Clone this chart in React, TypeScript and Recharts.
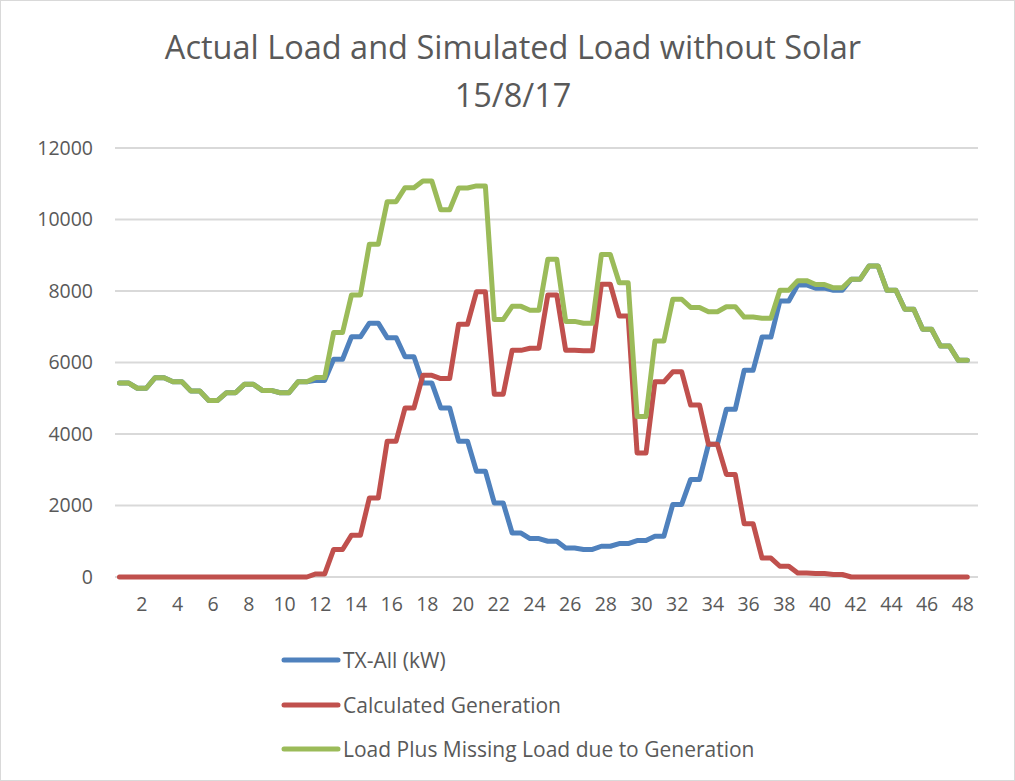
import React from 'react';
import { LineChart, Line, XAxis, YAxis, CartesianGrid, Legend } from 'recharts';

// half-hour slots of the day (1..48)
const halfHours = Array.from({ length: 48 }, (_, i) => i + 1);

// TX-All (kW)
const txAll = [
  5430, 5280, 5575, 5460, 5200, 4940, 5155, 5390, 5220, 5155, 5460, 5500,
  6090, 6720, 7100, 6695, 6160, 5430, 4730, 3800, 2960, 2070, 1230, 1075,
  1000, 810, 770, 860, 935, 1020, 1140, 2030, 2730, 3710, 4690, 5780,
  6710, 7720, 8170, 8080, 8020, 8330, 8700, 8020, 7490, 6930, 6460, 6060,
];

// Calculated Generation
const calculatedGeneration = [
  0, 0, 0, 0, 0, 0, 0, 0, 0, 0, 0, 85,
  770, 1170, 2210, 3800, 4730, 5640, 5550, 7070, 7980, 5110, 6340, 6400,
  7890, 6340, 6330, 8190, 7300, 3470, 5460, 5740, 4810, 3710, 2870, 1490,
  530, 300, 110, 95, 70, 0, 0, 0, 0, 0, 0, 0,
];

// Load Plus Missing Load due to Generation
const loadPlusMissing = [
  5430, 5280, 5575, 5460, 5200, 4940, 5155, 5390, 5220, 5155, 5460, 5580,
  6840, 7890, 9310, 10500, 10890, 11080, 10270, 10880, 10940, 7200, 7570, 7460,
  8890, 7150, 7100, 9020, 8230, 4490, 6600, 7770, 7540, 7420, 7560, 7270,
  7240, 8020, 8290, 8180, 8090, 8330, 8700, 8020, 7490, 6930, 6460, 6060,
];

const seriesNames = ['TX-All (kW)', 'Calculated Generation', 'Load Plus Missing Load due to Generation'];

const xTicks = [2, 4, 6, 8, 10, 12, 14, 16, 18, 20, 22, 24, 26, 28, 30, 32, 34, 36, 38, 40, 42, 44, 46, 48];
const yTicks = [0, 2000, 4000, 6000, 8000, 10000, 12000];

// each half-hour reading is held across its slot, so it gets a start and an end point
const chartData = halfHours.flatMap((slot, i) => [
  { x: slot - 0.25, tx: txAll[i], gen: calculatedGeneration[i], load: loadPlusMissing[i] },
  { x: slot + 0.25, tx: txAll[i], gen: calculatedGeneration[i], load: loadPlusMissing[i] },
]);

const FONT = '"Open Sans", sans-serif';
const TEXT = '#595959';

const LegendRows = (props: any) => {
  const items = [...(props.payload || [])].sort(
    (a: any, b: any) => seriesNames.indexOf(a.value) - seriesNames.indexOf(b.value)
  );
  return (
    <div style={{ fontFamily: FONT, fontSize: 21, color: TEXT }}>
      {items.map((it: any) => (
        <div key={it.value} style={{ display: 'flex', alignItems: 'center', height: 44.5 }}>
          <svg width={60} height={10} style={{ marginRight: 2 }}>
            <line x1={3} y1={5} x2={57} y2={5} stroke={it.color} strokeWidth={5} strokeLinecap="round" />
          </svg>
          <span>{it.value}</span>
        </div>
      ))}
    </div>
  );
};

export default function App() {
  return (
    <div
      style={{
        position: 'absolute',
        left: 0,
        top: 0,
        width: 1013,
        height: 779,
        border: '1px solid #d9d9d9',
        background: '#fff',
      }}
    >
      <div
        style={{
          position: 'absolute',
          top: 22,
          left: 0,
          width: 1024,
          textAlign: 'center',
          fontFamily: FONT,
          fontSize: 32.5,
          lineHeight: '48px',
          color: TEXT,
        }}
      >
        Actual Load and Simulated Load without Solar
        <br />
        15/8/17
      </div>
      <LineChart
        width={1013}
        height={779}
        data={chartData}
        margin={{ top: 147, right: 36, left: 0, bottom: 173 }}
        style={{ position: 'absolute', left: 0, top: 0 }}
      >
        <CartesianGrid vertical={false} stroke="#d9d9d9" strokeWidth={2} />
        <XAxis
          dataKey="x"
          type="number"
          domain={[0.5, 48.85]}
          ticks={xTicks}
          interval={0}
          axisLine={false}
          tickLine={false}
          height={30}
          tickMargin={14}
          tick={{ fontSize: 19.5, fill: TEXT, fontFamily: FONT }}
        />
        <YAxis
          domain={[0, 12000]}
          ticks={yTicks}
          axisLine={false}
          tickLine={false}
          width={114}
          tickMargin={16}
          tick={{ fontSize: 19.5, fill: TEXT, fontFamily: FONT }}
        />
        <Legend
          layout="vertical"
          align="center"
          verticalAlign="middle"
          wrapperStyle={{ top: 637, left: 280, width: 640 }}
          content={<LegendRows />}
        />
        <Line
          dataKey="tx"
          name={seriesNames[0]}
          stroke="#4f81bd"
          strokeWidth={5}
          dot={false}
          strokeLinejoin="round"
          strokeLinecap="round"
          isAnimationActive={false}
        />
        <Line
          dataKey="gen"
          name={seriesNames[1]}
          stroke="#c0504d"
          strokeWidth={5}
          dot={false}
          strokeLinejoin="round"
          strokeLinecap="round"
          isAnimationActive={false}
        />
        <Line
          dataKey="load"
          name={seriesNames[2]}
          stroke="#9bbb59"
          strokeWidth={5}
          dot={false}
          strokeLinejoin="round"
          strokeLinecap="round"
          isAnimationActive={false}
        />
      </LineChart>
    </div>
  );
}
